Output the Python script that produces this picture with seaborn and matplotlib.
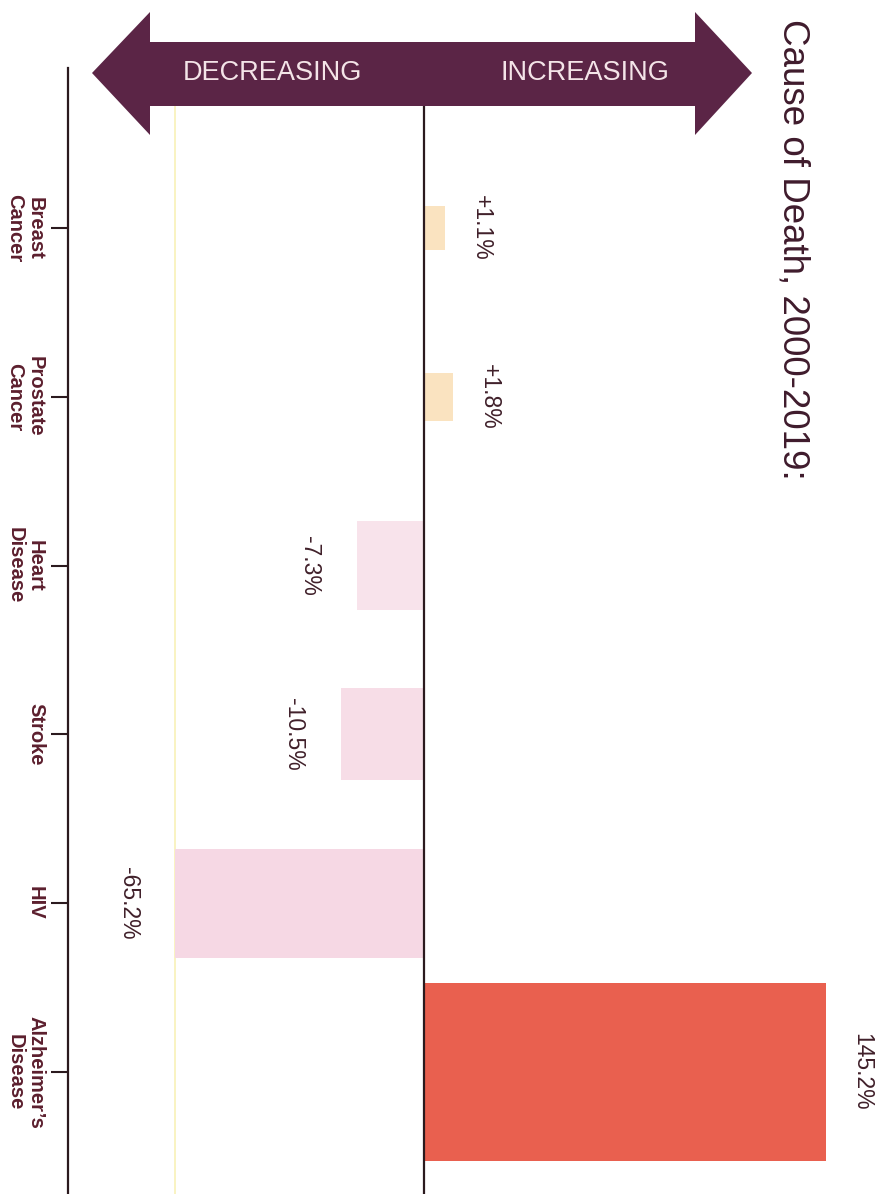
import numpy as np
import pandas as pd
import matplotlib
matplotlib.use("Agg")
import matplotlib.pyplot as plt
from matplotlib.patches import Polygon
import seaborn as sns

# Percent change in deaths by cause, 2000-2019
causes = ["Breast\nCancer", "Prostate\nCancer", "Heart\nDisease", "Stroke", "HIV",
          "Alzheimer\u2019s\nDisease"]
pct_change = [1.1, 1.8, -7.3, -10.5, -65.2, 145.2]
value_labels = ["+1.1%", "+1.8%", "-7.3%", "-10.5%", "-65.2%", "145.2%"]

# Styling
bar_colors = ["#fae3c0", "#fae3c0", "#f8e3eb", "#f7dde7", "#f6d8e4", "#e9604f"]
bar_thickness = [0.26, 0.285, 0.53, 0.545, 0.645, 1.055]
ink = "#2b1a1e"
label_color = "#5c1f2e"
value_color = "#40202a"
arrow_color = "#5b2546"

W, H, DPI = 888, 1194, 100

sns.set_theme(style="white")
plt.rcParams["font.family"] = ["Liberation Sans", "DejaVu Sans"]

fig = plt.figure(figsize=(W / DPI, H / DPI), dpi=DPI)
fig.patch.set_facecolor("white")

ax_left, ax_top = 68, 68
ax = fig.add_axes([ax_left / W, 0, (W - ax_left) / W, (H - ax_top) / H])
ax.set_facecolor("none")

df = pd.DataFrame({"cause": causes, "change": pct_change})
sns.barplot(data=df, x="change", y="cause", hue="cause", palette=bar_colors,
            legend=False, orient="h", saturation=1, linewidth=0, width=0.5, ax=ax)

# individual bar thickness around each category centre
for patch, t in zip(ax.patches, bar_thickness):
    c = patch.get_y() + patch.get_height() / 2
    patch.set_height(t)
    patch.set_y(c - t / 2)

# compressed (signed power) value axis so small changes stay visible
P = 0.6
def fwd(x):
    x = np.asarray(x, dtype=float)
    return np.sign(x) * np.abs(x) ** P

def inv(y):
    y = np.asarray(y, dtype=float)
    return np.sign(y) * np.abs(y) ** (1 / P)

ax.set_xscale("function", functions=(fwd, inv))
ax.set_xlim(-118.7, 184.7)
ax.set_ylim(5.723, -0.948)

# pale guide at the largest decrease, zero line
ax.axvline(min(pct_change), color="#f8f1b8", lw=1.2, zorder=0)
ax.axvline(0, color=ink, lw=1.6, zorder=3)

for side in ["top", "right", "bottom"]:
    ax.spines[side].set_visible(False)
ax.spines["left"].set_color(ink)
ax.spines["left"].set_linewidth(1.6)

ax.set_xticks([])
ax.set_xlabel("")
ax.set_ylabel("")
ax.set_yticks(range(len(causes)))
ax.set_yticklabels(causes, rotation=-90, va="center", ha="right",
                   multialignment="center", fontsize=14.5, fontweight="bold",
                   color=label_color, linespacing=1.1)
ax.tick_params(axis="y", left=True, length=12.5, width=1.5, color=ink, pad=4)

# value annotations beyond each bar end
for i, (v, lab) in enumerate(zip(pct_change, value_labels)):
    off = 26 if v > 0 else -34
    ax.annotate(lab, xy=(v, i), xytext=(off, 0), textcoords="offset points",
                rotation=-90, ha="center", va="center", fontsize=16.5,
                color=value_color)

# double-headed direction arrow across the top
arrow_px = [(92, 73), (150, 12), (150, 42), (695, 42), (695, 12), (752, 73),
            (695, 135), (695, 106), (150, 106), (150, 135)]
arrow = Polygon([(x / W, 1 - y / H) for x, y in arrow_px], closed=True,
                transform=fig.transFigure, facecolor=arrow_color,
                edgecolor="none", zorder=5)
fig.add_artist(arrow)
fig.text(272 / W, 1 - 73 / H, "DECREASING", ha="center", va="center",
         fontsize=19.5, color="#f4e4e8", zorder=6)
fig.text(585 / W, 1 - 73 / H, "INCREASING", ha="center", va="center",
         fontsize=19.5, color="#f4e4e8", zorder=6)

fig.text(793 / W, 1 - 249 / H, "Cause of Death, 2000-2019:", rotation=-90,
         ha="center", va="center", fontsize=26.5, color="#3f1b2c")

fig.savefig("out.png", dpi=DPI, facecolor="white")
